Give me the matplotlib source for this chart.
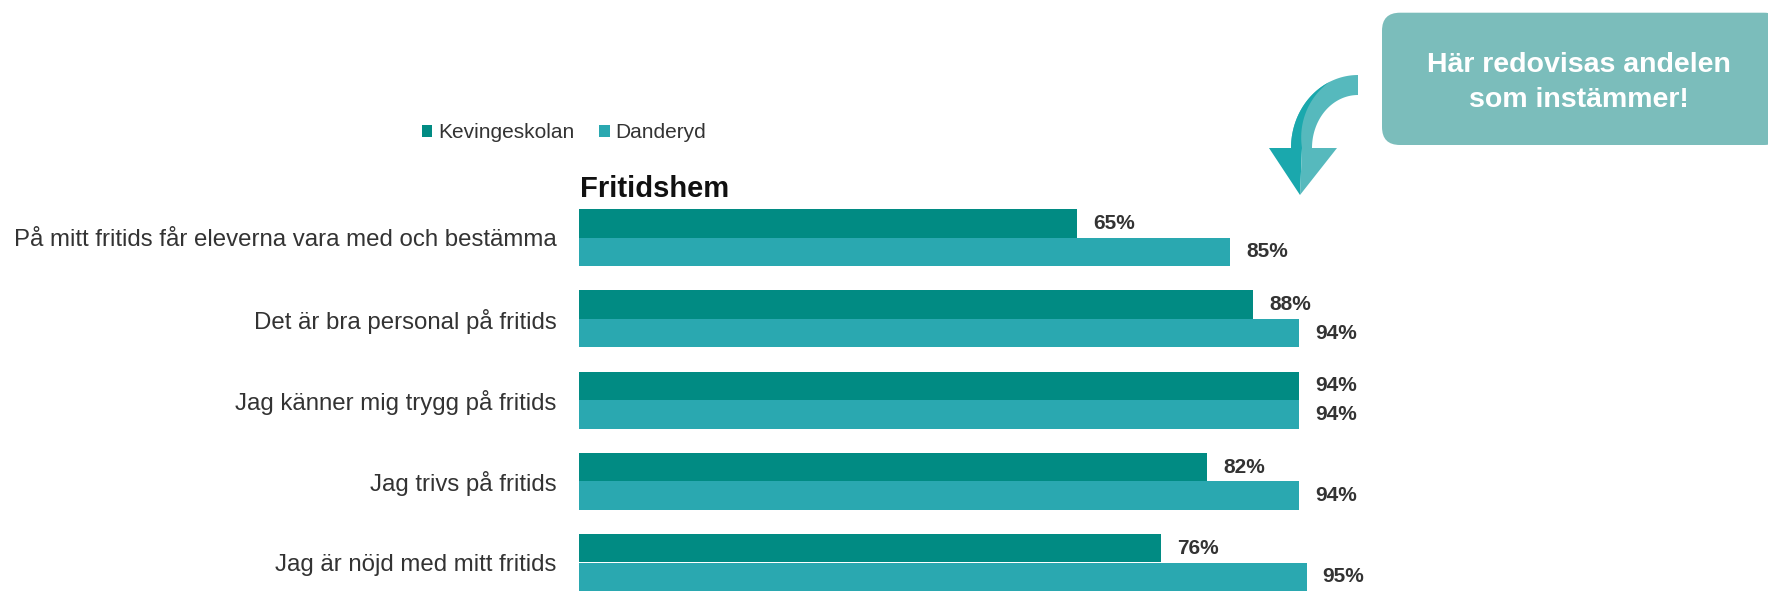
import numpy as np
import matplotlib
matplotlib.use("Agg")
from matplotlib import pyplot as plt
from matplotlib.patches import FancyBboxPatch, Polygon
from matplotlib.transforms import IdentityTransform

plt.rcParams['font.family'] = ['Liberation Sans', 'DejaVu Sans']

categories = [
    "På mitt fritids får eleverna vara med och bestämma",
    "Det är bra personal på fritids",
    "Jag känner mig trygg på fritids",
    "Jag trivs på fritids",
    "Jag är nöjd med mitt fritids",
]
series_names = ["Kevingeskolan", "Danderyd"]
kevingeskolan = [65, 88, 94, 82, 76]
danderyd = [85, 94, 94, 94, 95]

c_kev = '#018b83'
c_dan = '#2aa8b0'
txt = '#333333'

W, H = 1768, 591
fig = plt.figure(figsize=(W / 100, H / 100), dpi=100)

# axes placed in pixel terms of the reference
ax = fig.add_axes([579 / W, 0, 766 / W, (H - 197.1) / H])
y = np.arange(len(categories))
bh = 0.35
ax.barh(y - bh / 2, kevingeskolan, height=bh, color=c_kev, label=series_names[0])
ax.barh(y + bh / 2, danderyd, height=bh, color=c_dan, label=series_names[1])

for i in range(len(categories)):
    ax.annotate(f"{kevingeskolan[i]}%", (kevingeskolan[i], y[i] - bh / 2),
                xytext=(11.5, 0), textcoords='offset points', va='center',
                ha='left', fontsize=15, fontweight='bold', color=txt)
    ax.annotate(f"{danderyd[i]}%", (danderyd[i], y[i] + bh / 2),
                xytext=(11.5, 0), textcoords='offset points', va='center',
                ha='left', fontsize=15, fontweight='bold', color=txt)

ax.set_xlim(0, 100)
ax.set_ylim(4 + (H - 562.5) / 81.2, -0.5)
ax.set_yticks(y)
ax.set_yticklabels(categories, fontsize=17.3, color=txt)
ax.tick_params(axis='y', length=0, pad=16)
ax.set_xticks([])
for s in ax.spines.values():
    s.set_visible(False)

fig.text(580 / W, 1 - 197 / H, "Fritidshem", fontsize=21, fontweight='bold',
         color='#111111', ha='left', va='baseline')

handles, labels = ax.get_legend_handles_labels()
fig.legend(handles, labels, loc='center left', bbox_to_anchor=(422 / W, 1 - 133 / H),
           ncol=2, frameon=False, fontsize=15, handlelength=0.5, handleheight=0.5,
           handletextpad=0.26, columnspacing=1.2, borderpad=0, borderaxespad=0,
           labelcolor=txt)

# callout box
ident = IdentityTransform()
box = FancyBboxPatch((1382, H - 145), 400, 132.3,
                     boxstyle="round,pad=0,rounding_size=18",
                     facecolor='#7bbdbb', edgecolor='none', transform=ident)
fig.patches.append(box)
fig.text(1579 / W, 1 - 71.7 / H, "Här redovisas andelen", fontsize=20.5,
         fontweight='bold', color='white', ha='center', va='baseline')
fig.text(1579 / W, 1 - 106.7 / H, "som instämmer!", fontsize=20.5,
         fontweight='bold', color='white', ha='center', va='baseline')

# curved arrow, two tones (image pixel coords, y down)
cx, cy = 1358, 148
th = np.linspace(np.pi / 2, np.pi, 50)


def arc(rx, ry):
    return np.column_stack([cx + rx * np.cos(th), H - (cy - ry * np.sin(th))])


outer = arc(67, 73)
inner = arc(46, 53)
f = np.clip((th - np.radians(115)) / np.radians(65), 0, 1)[:, None]
mid = arc(56, 62)
split = outer - f * (outer - mid)

light = np.vstack([outer, inner[::-1]])
dark = np.vstack([outer, split[::-1]])
tip = (1300, H - 195)
head_l = [(1269, H - 148), (1302, H - 148), tip]
head_r = [(1302, H - 148), (1337, H - 148), tip]
for pts, col in [(light, '#56b9bd'), (dark, '#1aa8ad'),
                 (head_l, '#1aa8ad'), (head_r, '#56b9bd')]:
    fig.patches.append(Polygon(pts, closed=True, facecolor=col,
                               edgecolor='none', transform=ident))

fig.savefig('out.png', dpi=100)
